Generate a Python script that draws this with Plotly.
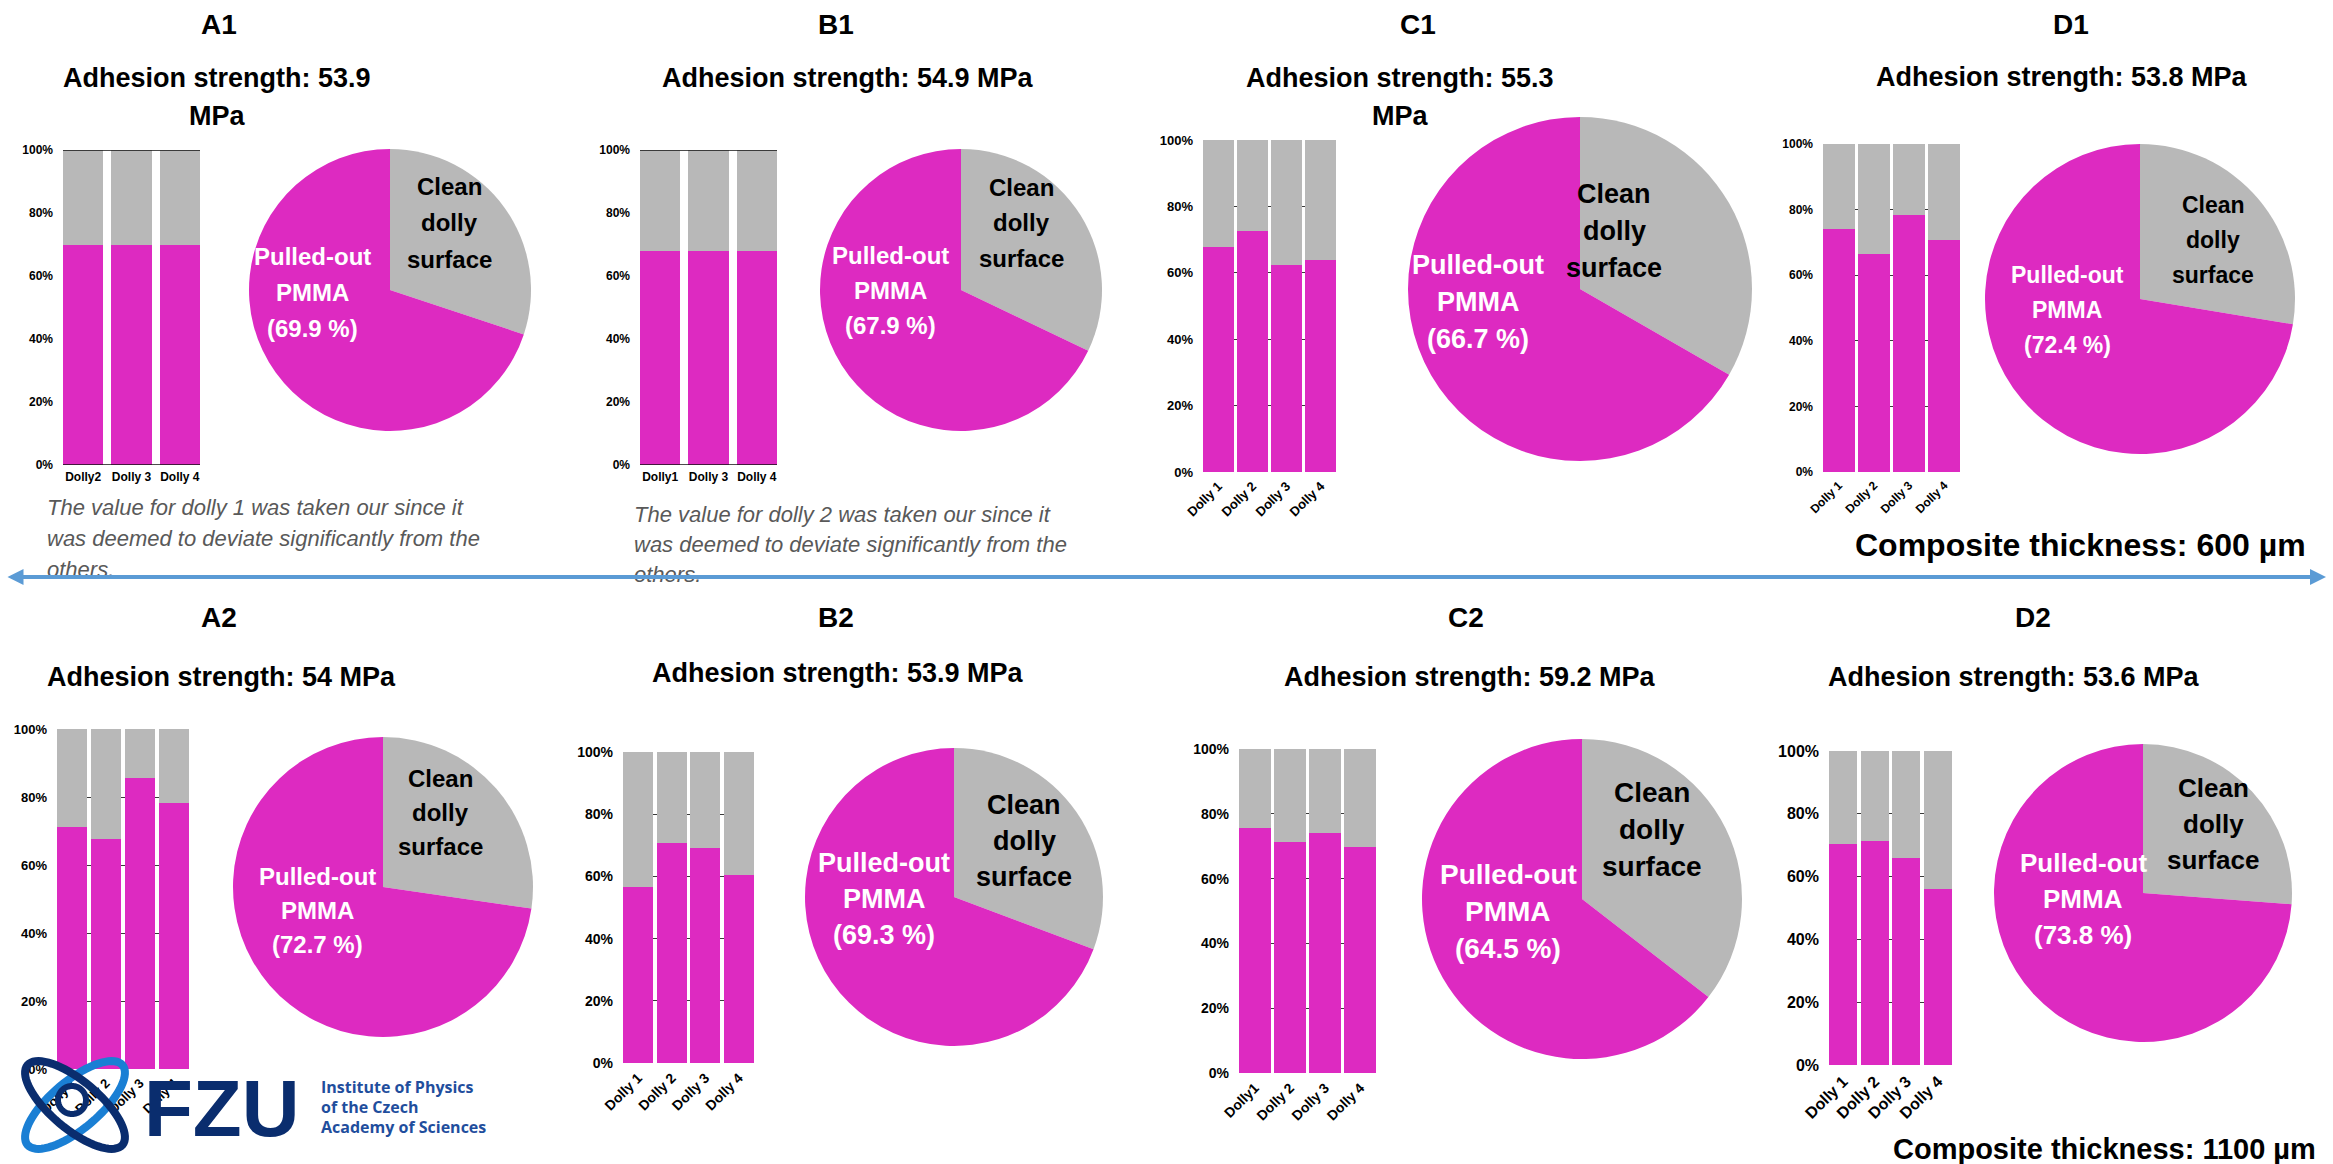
import math
import plotly.graph_objects as go

W, H = 2333, 1164

# ---- data -------------------------------------------------------------
panel_ids = ["A1", "B1", "C1", "D1", "A2", "B2", "C2", "D2"]
adhesion_mpa = [53.9, 54.9, 55.3, 53.8, 54, 53.9, 59.2, 53.6]
pulled_out_pct = [69.9, 67.9, 66.7, 72.4, 72.7, 69.3, 64.5, 73.8]

dollies_a1 = ["Dolly2", "Dolly 3", "Dolly 4"]
dollies_b1 = ["Dolly1", "Dolly 3", "Dolly 4"]
dollies_std = ["Dolly 1", "Dolly 2", "Dolly 3", "Dolly 4"]
dollies_c2 = ["Dolly1", "Dolly 2", "Dolly 3", "Dolly 4"]

pmma_a1 = [69.9, 69.9, 69.9]
pmma_b1 = [67.9, 67.9, 67.9]
pmma_c1 = [67.8, 72.6, 62.4, 63.9]
pmma_d1 = [74.1, 66.4, 78.3, 70.7]
pmma_a2 = [71.2, 67.6, 85.6, 78.2]
pmma_b2 = [56.5, 70.6, 69.0, 60.6]
pmma_c2 = [75.6, 71.3, 74.1, 69.8]
pmma_d2 = [70.4, 71.3, 65.9, 56.1]

dolly_labels = [dollies_a1, dollies_b1, dollies_std, dollies_std,
                dollies_std, dollies_std, dollies_c2, dollies_std]
pmma_share = [pmma_a1, pmma_b1, pmma_c1, pmma_d1,
              pmma_a2, pmma_b2, pmma_c2, pmma_d2]

y_ticks = [0, 20, 40, 60, 80, 100]
y_tick_text = ["0%", "20%", "40%", "60%", "80%", "100%"]

note_a1 = ["The value for dolly 1 was taken our since it",
           "was deemed to deviate significantly from the",
           "others."]
note_b1 = ["The value for dolly 2 was taken our since it",
           "was deemed to deviate significantly from the",
           "others."]

thickness_top = "Composite thickness: 600 µm"
thickness_bottom = "Composite thickness: 1100 µm"

# ---- styling / geometry (pixels on the 2333x1164 page) -----------------
MAGENTA = "#DD2AC1"
GREY = "#B8B8B8"
FONT = "Liberation Sans"

geometry = [
    # bar box (x0, x1, y0, y1), pie (cx, cy, r), title xy, adhesion xy, wrap,
    # clean label xy, pulled label xy, pie font, line spacing, tick font
    dict(bar=(63, 200, 150, 465), pie=(390, 290, 141), title=(219, 24),
         adh=(217, 78), wrap=True, clean=(449, 223), pulled=(312, 292),
         pfs=24, lsp=36, tfs=12),
    dict(bar=(640, 777, 150, 465), pie=(961, 290, 141), title=(836, 24),
         adh=(848, 78), wrap=False, clean=(1021, 223), pulled=(890, 290),
         pfs=24, lsp=35, tfs=12),
    dict(bar=(1203, 1336, 140, 472), pie=(1580, 289, 172), title=(1418, 24),
         adh=(1400, 78), wrap=True, clean=(1614, 231), pulled=(1478, 302),
         pfs=27, lsp=37, tfs=13),
    dict(bar=(1823, 1960, 144, 472), pie=(2140, 299, 155), title=(2071, 24),
         adh=(2062, 77), wrap=False, clean=(2213, 240), pulled=(2067, 310),
         pfs=23, lsp=35, tfs=12),
    dict(bar=(57, 189, 729, 1069), pie=(383, 887, 150), title=(219, 617),
         adh=(221, 677), wrap=False, clean=(440, 812), pulled=(317, 910),
         pfs=24, lsp=34, tfs=13),
    dict(bar=(623, 754, 752, 1063), pie=(954, 897, 149), title=(836, 617),
         adh=(838, 673), wrap=False, clean=(1024, 841), pulled=(884, 899),
         pfs=27, lsp=36, tfs=14),
    dict(bar=(1239, 1376, 749, 1073), pie=(1582, 899, 160), title=(1466, 617),
         adh=(1470, 677), wrap=False, clean=(1652, 829), pulled=(1508, 911),
         pfs=28, lsp=37, tfs=14),
    dict(bar=(1829, 1952, 751, 1065), pie=(2143, 893, 149), title=(2033, 617),
         adh=(2014, 677), wrap=False, clean=(2213, 824), pulled=(2083, 899),
         pfs=26, lsp=36, tfs=16),
]


def px_x(x):
    return x / W


def px_y(y):
    return 1 - y / H


fig = go.Figure()
annotations = []
shapes = []
layout_axes = {}


def add_text(x, y, text, size, color="black", bold=True, italic=False,
             xanchor="center", yanchor="middle", family=FONT):
    if bold:
        text = f"<b>{text}</b>"
    if italic:
        text = f"<i>{text}</i>"
    annotations.append(dict(
        x=px_x(x), y=px_y(y), xref="paper", yref="paper", text=text,
        showarrow=False, xanchor=xanchor, yanchor=yanchor,
        font=dict(family=family, size=size, color=color)))


def add_lines(x, y_mid, lines, size, spacing, color, **kw):
    n = len(lines)
    for i, line in enumerate(lines):
        add_text(x, y_mid + (i - (n - 1) / 2) * spacing, line, size, color, **kw)


for i, pid in enumerate(panel_ids):
    g = geometry[i]
    k = "" if i == 0 else str(i + 1)
    cats = dolly_labels[i]
    vals = pmma_share[i]
    n = len(cats)
    bw = 0.834 if n == 3 else 0.9

    # stacked 100% bars: pulled-out PMMA below, clean surface on top
    fig.add_trace(go.Bar(x=cats, y=vals, marker=dict(color=MAGENTA, line=dict(width=0)),
                         width=bw, xaxis="x" + k, yaxis="y" + k, name="Pulled-out PMMA",
                         showlegend=False))
    fig.add_trace(go.Bar(x=cats, y=[100 - v for v in vals],
                         marker=dict(color=GREY, line=dict(width=0)),
                         width=bw, xaxis="x" + k, yaxis="y" + k, name="Clean dolly surface",
                         showlegend=False))

    x0, x1, y0, y1 = g["bar"]
    tick_font = dict(family=FONT, size=g["tfs"], color="black", weight="bold")
    layout_axes["xaxis" + k] = dict(
        domain=[px_x(x0), px_x(x1)], anchor="y" + k, type="category",
        categoryorder="array", categoryarray=cats, automargin=False,
        range=[-bw / 2, n - 1 + bw / 2], showgrid=False, zeroline=False,
        showline=False, ticks="", tickfont=tick_font,
        tickangle=0 if n == 3 else -45, ticklabelstandoff=3, fixedrange=True)
    layout_axes["yaxis" + k] = dict(
        domain=[px_y(y1), px_y(y0)], anchor="x" + k, range=[0, 100],
        tickmode="array", tickvals=y_ticks, ticktext=y_tick_text,
        showgrid=(n == 4), automargin=False,
        gridcolor="#3a3a3a", gridwidth=1, zeroline=False, showline=False,
        ticks="", tickfont=tick_font, ticklabelstandoff=9, fixedrange=True)
    if n == 3:
        for yv in (0, 100):
            shapes.append(dict(type="line", xref="x" + k + " domain", yref="y" + k,
                               x0=0, x1=1, y0=yv, y1=yv, layer="above",
                               line=dict(color="#111111", width=1.5)))

    # pie of the mean share
    cx, cy, r = g["pie"]
    pct = pulled_out_pct[i]
    fig.add_trace(go.Pie(
        values=[round(100 - pct, 1), pct],
        labels=["Clean dolly surface", "Pulled-out PMMA"],
        marker=dict(colors=[GREY, MAGENTA], line=dict(width=0)),
        sort=False, direction="clockwise", rotation=0, textinfo="none",
        domain=dict(x=[px_x(cx - r), px_x(cx + r)], y=[px_y(cy + r), px_y(cy - r)]),
        showlegend=False))

    add_lines(g["clean"][0], g["clean"][1], ["Clean", "dolly", "surface"],
              g["pfs"], g["lsp"], "black")
    add_lines(g["pulled"][0], g["pulled"][1], ["Pulled-out", "PMMA", f"({pct} %)"],
              g["pfs"], g["lsp"], "white")

    # panel title and adhesion strength
    add_text(g["title"][0], g["title"][1], pid, 28)
    adh = f"Adhesion strength: {adhesion_mpa[i]:g} MPa"
    if g["wrap"]:
        head, tail = adh.rsplit(" ", 1)
        add_lines(g["adh"][0], g["adh"][1] + 19, [head, tail], 27, 38, "black")
    else:
        add_text(g["adh"][0], g["adh"][1], adh, 27)

# notes below the A1 and B1 bar charts
add_lines(45, 538, note_a1, 22, 31, "#595959", bold=False, italic=True, xanchor="left")
add_lines(632, 544, note_b1, 22, 30, "#595959", bold=False, italic=True, xanchor="left")

# composite thickness captions
add_text(2308, 545, thickness_top, 32, xanchor="right")
add_text(2318, 1149, thickness_bottom, 29, xanchor="right")

# double-headed divider between the two thickness rows
annotations.append(dict(
    x=px_x(2326), y=px_y(577), xref="paper", yref="paper", text="",
    showarrow=True, ax=-(2326 - 6), ay=0, axref="pixel", ayref="pixel",
    arrowside="end+start", arrowhead=2, arrowsize=0.8, arrowwidth=4,
    arrowcolor="#5B9BD5"))

# institute logo: two crossed orbits around a small ring
NAVY = "#0A2D6E"
BLUE = "#1A7FD4"


def ellipse_path(cx, cy, rx, ry, angle_deg, steps=72):
    a = math.radians(angle_deg)
    pts = []
    for s in range(steps + 1):
        t = 2 * math.pi * s / steps
        ex, ey = rx * math.cos(t), ry * math.sin(t)
        x = cx + ex * math.cos(a) - ey * math.sin(a)
        y = cy + ex * math.sin(a) + ey * math.cos(a)
        pts.append(f"{px_x(x):.5f},{px_y(y):.5f}")
    return "M " + " L ".join(pts) + " Z"


shapes.append(dict(type="path", xref="paper", yref="paper", layer="above",
                   path=ellipse_path(75, 1105, 62, 24, -40),
                   line=dict(color=BLUE, width=8)))
shapes.append(dict(type="path", xref="paper", yref="paper", layer="above",
                   path=ellipse_path(75, 1105, 62, 24, 40),
                   line=dict(color=NAVY, width=8)))
shapes.append(dict(type="path", xref="paper", yref="paper", layer="above",
                   path=ellipse_path(72, 1100, 14, 14, 0),
                   line=dict(color=NAVY, width=6)))
add_text(222, 1108, "FZU", 80, color=NAVY)
add_lines(319, 1107, ["Institute of Physics", "of the Czech", "Academy of Sciences"],
          16, 20, "#1F4E9D", bold=True, xanchor="left", family="Open Sans")

fig.update_layout(
    width=W, height=H, autosize=False,
    margin=dict(l=0, r=0, t=0, b=0, autoexpand=False),
    paper_bgcolor="white", plot_bgcolor="white",
    barmode="stack", showlegend=False,
    annotations=annotations, shapes=shapes,
    **layout_axes,
)

fig.write_html("out.html")
